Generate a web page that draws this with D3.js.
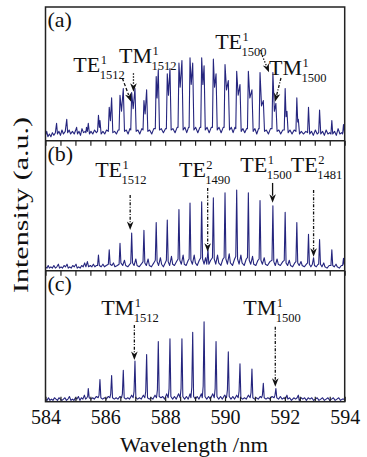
<!DOCTYPE html>
<html>
<head>
<meta charset="utf-8">
<script src="https://cdn.jsdelivr.net/npm/d3@7"></script>
<style>
  html, body { margin: 0; padding: 0; background: #fff; }
  svg { display: block; }
  svg text { font-family: "Liberation Serif", "DejaVu Serif", serif; fill: #111; }
</style>
</head>
<body>
<svg id="chart" width="367" height="457"></svg>
<script>
// ---------------- DATA ----------------
const xDomain = [584, 594];
const tickValues = [584,584.5,585,585.5,586,586.5,587,587.5,588,588.5,589,589.5,590,590.5,591,591.5,592,592.5,593,593.5,594];
const tickLabels = ["584","","","","586","","","","588","","","","590","","","","592","","","","594"];
const panelNames = ["(a)", "(b)", "(c)"];

// Panel (a): wavelength (nm), intensity (% of panel height)
const traceA = [
[584.00,4],[584.04,7],[584.08,3],[584.13,5],[584.18,3],[584.23,6],[584.28,4],[584.33,6],[584.37,13],[584.40,5],[584.45,7],[584.50,4],[584.55,8],[584.60,5],[584.66,7],[584.71,16],[584.74,6],[584.79,8],[584.84,5],[584.90,7],[584.96,5],[585.01,8],[585.04,10],[585.07,5],[585.12,7],[585.17,4],[585.22,9],[585.27,6],[585.33,7],
[585.35,6],[585.37,10],[585.40,7],[585.43,13],[585.47,5],[585.52,7],[585.58,5],[585.64,8],[585.70,6],
[585.74,7],[585.77,19],[585.80,10],[585.82,15],[585.86,5],[585.92,7],[585.98,5],[586.04,8],
[586.10,7],[586.13,25],[586.17,15],[586.21,32],[586.25,6],[586.31,7],[586.37,5],[586.43,8],
[586.46,8],[586.49,34],[586.54,22],[586.60,39],[586.64,7],[586.70,8],[586.76,5],[586.82,9],
[586.85,8],[586.88,36],[586.93,24],[586.99,39],[587.03,7],[587.09,8],[587.15,5],[587.22,9],
[587.26,8],[587.29,30],[587.33,20],[587.38,38],[587.42,7],[587.48,8],[587.55,5],[587.62,9],
[587.67,9],[587.70,48],[587.73,32],[587.77,53],[587.81,8],[587.87,9],[587.94,6],[588.01,9],
[588.04,9],[588.07,50],[588.11,34],[588.16,54],[588.20,8],[588.26,9],[588.33,6],[588.40,10],
[588.43,10],[588.46,58],[588.50,40],[588.56,60],[588.60,8],[588.66,10],[588.72,6],[588.78,10],
[588.80,10],[588.83,62],[588.87,42],[588.92,58],[588.96,8],[589.02,10],[589.09,6],[589.16,10],
[589.19,10],[589.22,62],[589.26,42],[589.30,56],[589.34,8],[589.40,10],[589.47,6],[589.54,10],
[589.58,10],[589.61,61],[589.65,40],[589.70,50],[589.74,8],[589.80,10],[589.87,6],[589.94,10],
[589.97,10],[590.00,57],[590.05,38],[590.11,45],[590.15,8],[590.21,10],[590.27,6],[590.33,10],
[590.36,9],[590.39,52],[590.44,34],[590.50,42],[590.54,7],[590.60,9],[590.66,6],[590.72,9],
[590.75,9],[590.78,52],[590.83,32],[590.90,38],[590.94,7],[591.00,9],[591.06,5],[591.12,9],
[591.14,9],[591.17,51],[591.22,26],[591.28,30],[591.32,7],[591.38,8],[591.45,5],[591.52,9],
[591.57,9],[591.60,51],[591.65,22],[591.70,28],[591.74,7],[591.80,8],[591.86,5],[591.93,8],
[591.98,8],[592.01,39],[592.04,18],[592.07,22],[592.11,6],[592.17,8],[592.24,5],[592.31,8],
[592.37,7],[592.40,32],[592.43,14],[592.45,16],[592.49,5],[592.55,7],[592.62,5],[592.70,7],
[592.76,6],[592.79,25],[592.83,5],[592.89,7],[592.95,4],[593.02,8],[593.08,5],
[593.13,6],[593.16,23],[593.20,5],[593.26,7],[593.32,4],[593.38,8],[593.44,5],[593.50,6],
[593.54,5],[593.57,15],[593.60,5],[593.66,7],[593.72,4],[593.78,9],[593.84,5],[593.90,6],
[593.93,5],[593.96,12],[593.99,6],[594.00,5]
];

// Panel (b)
const traceB = [
[584.00,3],[584.05,2],[584.09,4],[584.13,2],[584.18,3],[584.23,2],[584.28,4],[584.33,2],[584.38,3],[584.43,5],[584.47,2],[584.52,3],[584.57,2],[584.62,4],[584.67,3],[584.72,5],[584.76,2],[584.81,3],[584.86,2],[584.91,4],[584.96,3],[585.02,5],[585.06,2],[585.11,3],[585.16,2],[585.21,4],[585.26,3],[585.31,6],[585.35,3],[585.40,7],[585.44,3],[585.50,4],[585.55,3],[585.60,5],[585.65,3],[585.70,4],
[585.74,4],[585.77,12],[585.80,4],[585.86,3],[585.92,5],[585.97,3],[586.03,4],
[586.10,5],[586.13,16],[586.16,5],[586.22,4],[586.27,6],[586.32,3],[586.40,4],
[586.46,5],[586.49,21],[586.52,6],[586.58,4],[586.64,8],[586.68,4],[586.75,3],[586.82,5],
[586.85,6],[586.88,29],[586.91,6],[586.96,4],[587.02,9],[587.06,4],[587.13,3],[587.20,5],
[587.26,7],[587.29,31],[587.32,6],[587.37,4],[587.43,9],[587.47,4],[587.54,3],[587.62,6],
[587.67,8],[587.70,37],[587.73,7],[587.78,4],[587.84,10],[587.88,5],[587.94,3],[588.00,6],
[588.04,8],[588.07,39],[588.10,7],[588.15,4],[588.21,11],[588.25,5],[588.31,4],[588.38,7],
[588.43,9],[588.46,47],[588.49,8],[588.54,5],[588.60,12],[588.64,5],[588.70,4],[588.77,8],
[588.80,9],[588.83,52],[588.86,8],[588.91,5],[588.97,12],[589.01,6],[589.07,4],[589.14,8],
[589.19,10],[589.22,53],[589.25,9],[589.30,5],[589.35,10],[589.39,5],[589.43,16],[589.46,5],[589.52,8],
[589.58,10],[589.61,56],[589.64,9],[589.69,5],[589.75,12],[589.79,6],[589.86,4],[589.93,9],
[589.97,10],[590.00,60],[590.03,9],[590.08,5],[590.14,13],[590.18,6],[590.25,4],[590.32,9],
[590.36,11],[590.39,62],[590.42,9],[590.47,5],[590.53,12],[590.57,6],[590.64,4],[590.71,9],
[590.75,10],[590.78,60],[590.81,8],[590.86,5],[590.92,11],[590.96,5],[591.03,4],[591.10,8],
[591.14,9],[591.17,54],[591.20,8],[591.25,5],[591.31,10],[591.35,5],[591.42,4],[591.50,7],
[591.57,8],[591.60,50],[591.63,7],[591.68,4],[591.74,9],[591.78,5],[591.85,4],[591.93,7],
[591.98,8],[592.01,45],[592.04,6],[592.09,4],[592.15,8],[592.19,4],[592.26,3],[592.33,6],
[592.37,7],[592.40,37],[592.43,6],[592.48,4],[592.54,7],[592.58,4],[592.65,3],[592.72,5],
[592.76,6],[592.79,28],[592.82,5],[592.87,3],[592.92,5],[592.96,10],[592.99,4],[593.05,3],[593.11,5],
[593.13,5],[593.16,24],[593.19,5],[593.24,3],[593.30,6],[593.34,3],[593.41,2],[593.48,4],
[593.54,4],[593.57,16],[593.60,4],[593.65,3],[593.71,5],[593.75,3],[593.82,2],[593.89,4],
[593.93,4],[593.96,9.5],[593.98,5],[594.00,4]
];

// Panel (c)
const traceC = [
[584.00,2],[584.05,1],[584.10,3],[584.15,1],[584.20,2],[584.25,1],[584.30,3],[584.35,2],[584.40,1],[584.45,3],[584.50,2],[584.55,1],[584.60,2],[584.65,3],[584.70,1],[584.75,2],[584.80,4],[584.85,1],[584.90,2],[584.95,1],[585.00,3],[585.05,2],[585.10,4],[585.15,1],[585.20,3],[585.25,2],[585.30,5],[585.34,2],
[585.38,3],[585.41,4],[585.43,10],[585.46,3],[585.52,2],[585.58,3],[585.63,2],[585.70,4],
[585.76,3],[585.79,5],[585.82,17],[585.85,3],[585.91,2],[585.97,3],[586.03,2],[586.10,4],
[586.15,3],[586.18,6],[586.21,20],[586.24,3],[586.30,2],[586.36,3],[586.42,2],[586.49,4],
[586.54,3],[586.57,6],[586.60,24],[586.63,3],[586.69,2],[586.75,3],[586.81,2],[586.88,5],
[586.93,3],[586.96,8],[586.99,31],[587.02,3],[587.08,2],[587.14,3],[587.20,2],[587.27,5],
[587.32,3],[587.35,8],[587.38,36],[587.41,3],[587.47,2],[587.53,3],[587.59,2],[587.66,5],
[587.71,3],[587.74,9],[587.77,46],[587.80,4],[587.86,3],[587.92,4],[587.98,2],[588.05,6],
[588.10,3],[588.13,10],[588.16,48],[588.19,4],[588.25,2],[588.31,4],[588.37,2],[588.45,6],
[588.50,3],[588.53,10],[588.56,48],[588.59,4],[588.65,2],[588.71,4],[588.77,2],[588.83,6],
[588.86,3],[588.89,11],[588.92,53],[588.95,4],[589.01,2],[589.07,4],[589.13,2],[589.21,6],
[589.24,3],[589.27,12],[589.30,61],[589.33,4],[589.39,2],[589.45,4],[589.51,2],[589.59,6],
[589.64,3],[589.67,10],[589.70,46],[589.73,4],[589.79,2],[589.85,4],[589.91,2],[589.99,5],
[590.05,3],[590.08,9],[590.11,38],[590.14,4],[590.20,2],[590.26,4],[590.32,2],[590.39,5],
[590.44,3],[590.47,8],[590.50,29],[590.53,3],[590.59,2],[590.65,3],[590.71,2],[590.78,5],
[590.84,3],[590.87,7],[590.90,25],[590.93,3],[590.99,2],[591.05,3],[591.11,2],[591.18,4],
[591.22,3],[591.25,5],[591.28,14],[591.31,3],[591.37,2],[591.43,3],[591.50,2],[591.57,4],
[591.64,3],[591.67,5],[591.70,10],[591.73,3],[591.79,2],[591.85,4],[591.91,2],
[591.97,3],[592.02,2],[592.07,5],[592.10,2],[592.16,3],[592.22,1],[592.30,3],
[592.36,2],[592.41,3],[592.45,5],[592.48,1],[592.55,3],[592.60,2],[592.66,3],[592.72,1],[592.78,3],[592.84,2],[592.90,3],[592.96,1],[593.02,2],[593.08,3],[593.14,1],[593.20,2],[593.26,3],[593.32,1],[593.38,2],[593.44,3],[593.50,1],[593.56,2],[593.62,3],[593.68,1],[593.74,2],[593.80,3],[593.86,1],[593.92,2],[594.00,2]
];

// Annotations: label anchor (wavelength, intensity), arrow tail and tip (wavelength, intensity)
const labelsA = [
  {main:"TE", sup:"1", sub:"1512", at:[584.93,51.6], tail:[586.57,46.7], tip:[586.86,29.2], kind:"dash"},
  {main:"TM", sup:"1", sub:"1512", at:[586.46,57.9], tail:[586.94,50.4], tip:[586.94,36.6], kind:"dot"},
  {main:"TE", sup:"1", sub:"1500", at:[589.67,68.4], tail:[591.17,67.8], tip:[591.47,51.2], kind:"dot"},
  {main:"TM", sup:"1", sub:"1500", at:[591.47,49.1], tail:[591.87,46.9], tip:[591.67,29.2], kind:"dashdot"}
];
const labelsB = [
  {main:"TE", sup:"1", sub:"1512", at:[585.66,72.3], tail:[586.83,58.2], tip:[586.83,31.3], kind:"dashdot"},
  {main:"TE", sup:"2", sub:"1490", at:[588.46,72.3], tail:[589.42,63.6], tip:[589.42,14.6], kind:"dashdot"},
  {main:"TE", sup:"1", sub:"1500", at:[590.51,76.2], tail:[591.59,67.5], tip:[591.59,52.3], kind:"solid"},
  {main:"TE", sup:"2", sub:"1481", at:[592.20,76.2], tail:[592.96,62.1], tip:[592.96,10.8], kind:"dashdot"}
];
const labelsC = [
  {main:"TM", sup:"1", sub:"1512", at:[585.86,66.2], tail:[586.97,58.5], tip:[586.97,31.8], kind:"dashdot"},
  {main:"TM", sup:"1", sub:"1500", at:[590.61,66.2], tail:[591.68,57.3], tip:[591.68,11.5], kind:"dashdot"}
];

// ---------------- LAYOUT ----------------
const FONT = "'Liberation Serif', 'DejaVu Serif', serif";
const svg = d3.select("#chart");
const left = 45.5, right = 344.7;
const bounds = [[7, 140.7], [140.7, 270.7], [270.7, 401.7]];
const traces = [traceA, traceB, traceC];
const labels = [labelsA, labelsB, labelsC];
const dashes = {dash:"3.2,2", dot:"1.4,1.6", dashdot:"3,1.6,1,1.6", solid:null};
const lineColor = "#25257e";

const x = d3.scaleLinear().domain(xDomain).range([left, right]);

function txt(g, xx, yy, size, s) {
  return g.append("text").attr("x", xx).attr("y", yy)
    .attr("font-family", FONT).attr("font-size", size).attr("fill", "#111").text(s);
}

bounds.forEach(([top, bottom], i) => {
  const y = d3.scaleLinear().domain([0, 100]).range([bottom, top]);
  const g = svg.append("g");
  g.append("clipPath").attr("id", "clip" + i)
    .append("rect").attr("x", left).attr("y", top).attr("width", right - left).attr("height", bottom - top);

  const line = d3.line().x(d => x(d[0])).y(d => y(d[1]));
  g.append("path").datum(traces[i])
    .attr("clip-path", `url(#clip${i})`)
    .attr("d", line)
    .attr("fill", "none")
    .attr("stroke", lineColor)
    .attr("stroke-width", 1.1)
    .attr("stroke-linejoin", "round");

  // panel label
  txt(g, left + 2, top + 20, 22, panelNames[i]);

  // annotations
  labels[i].forEach(a => {
    const x0 = x(a.tail[0]), y0 = y(a.tail[1]);
    const x1 = x(a.tip[0]), y1 = y(a.tip[1]);
    const ang = Math.atan2(y1 - y0, x1 - x0);
    const L = 8.5, W = 3.3;
    const bx = x1 - L * Math.cos(ang), by = y1 - L * Math.sin(ang);
    g.append("line")
      .attr("x1", x0).attr("y1", y0).attr("x2", bx + 1.5 * Math.cos(ang)).attr("y2", by + 1.5 * Math.sin(ang))
      .attr("stroke", "#111").attr("stroke-width", 1.3)
      .attr("stroke-dasharray", dashes[a.kind]);
    const px = -Math.sin(ang), py = Math.cos(ang);
    g.append("path")
      .attr("d", `M${x1},${y1}L${bx + W * px},${by + W * py}L${bx + 2.5*Math.cos(ang)},${by + 2.5*Math.sin(ang)}L${bx - W * px},${by - W * py}Z`)
      .attr("fill", "#111");

    const t = txt(g, x(a.at[0]), y(a.at[1]), 22, a.main);
    const tw = t.node().getComputedTextLength();
    txt(g, x(a.at[0]) + tw + 0.5, y(a.at[1]) - 8, 12.5, a.sup);
    txt(g, x(a.at[0]) + tw - 0.5, y(a.at[1]) + 7, 12.5, a.sub);
  });
});

// ticks at the top of panels (b) and (c), pointing down
[bounds[1][0], bounds[2][0]].forEach(yy => {
  svg.append("g").attr("transform", `translate(0,${yy})`)
    .call(d3.axisBottom(x).tickValues(tickValues).tickSize(5).tickFormat(""))
    .call(g => g.select(".domain").remove())
    .call(g => g.selectAll("line").attr("stroke", "#222").attr("stroke-width", 1.2));
});

// bottom axis with ticks pointing up
svg.append("g").attr("transform", `translate(0,${bounds[2][1]})`)
  .attr("font-family", FONT)
  .call(d3.axisBottom(x).tickValues(tickValues).tickSize(-5).tickPadding(8)
    .tickFormat((d, i) => tickLabels[i]))
  .call(g => g.attr("font-family", FONT).attr("font-size", 20))
  .call(g => g.select(".domain").remove())
  .call(g => g.selectAll("line").attr("stroke", "#222").attr("stroke-width", 1.2))
  .call(g => g.selectAll("text").attr("font-size", 20)
    .attr("font-family", FONT).attr("fill", "#111"));

// frame and separators
svg.append("rect").attr("x", left).attr("y", bounds[0][0])
  .attr("width", right - left).attr("height", bounds[2][1] - bounds[0][0])
  .attr("fill", "none").attr("stroke", "#222").attr("stroke-width", 1.5);
[bounds[0][1], bounds[1][1]].forEach(yy => {
  svg.append("line").attr("x1", left).attr("x2", right).attr("y1", yy).attr("y2", yy)
    .attr("stroke", "#222").attr("stroke-width", 1.5);
});

// axis titles
txt(svg, 194, 452, 21, "Wavelength /nm").attr("text-anchor", "middle")
  .attr("textLength", 148).attr("lengthAdjust", "spacingAndGlyphs");
txt(svg, 0, 0, 21, "Intensity (a.u.)").attr("transform", "translate(28,205) rotate(-90)")
  .attr("text-anchor", "middle")
  .attr("textLength", 176).attr("lengthAdjust", "spacingAndGlyphs");
</script>
</body>
</html>
